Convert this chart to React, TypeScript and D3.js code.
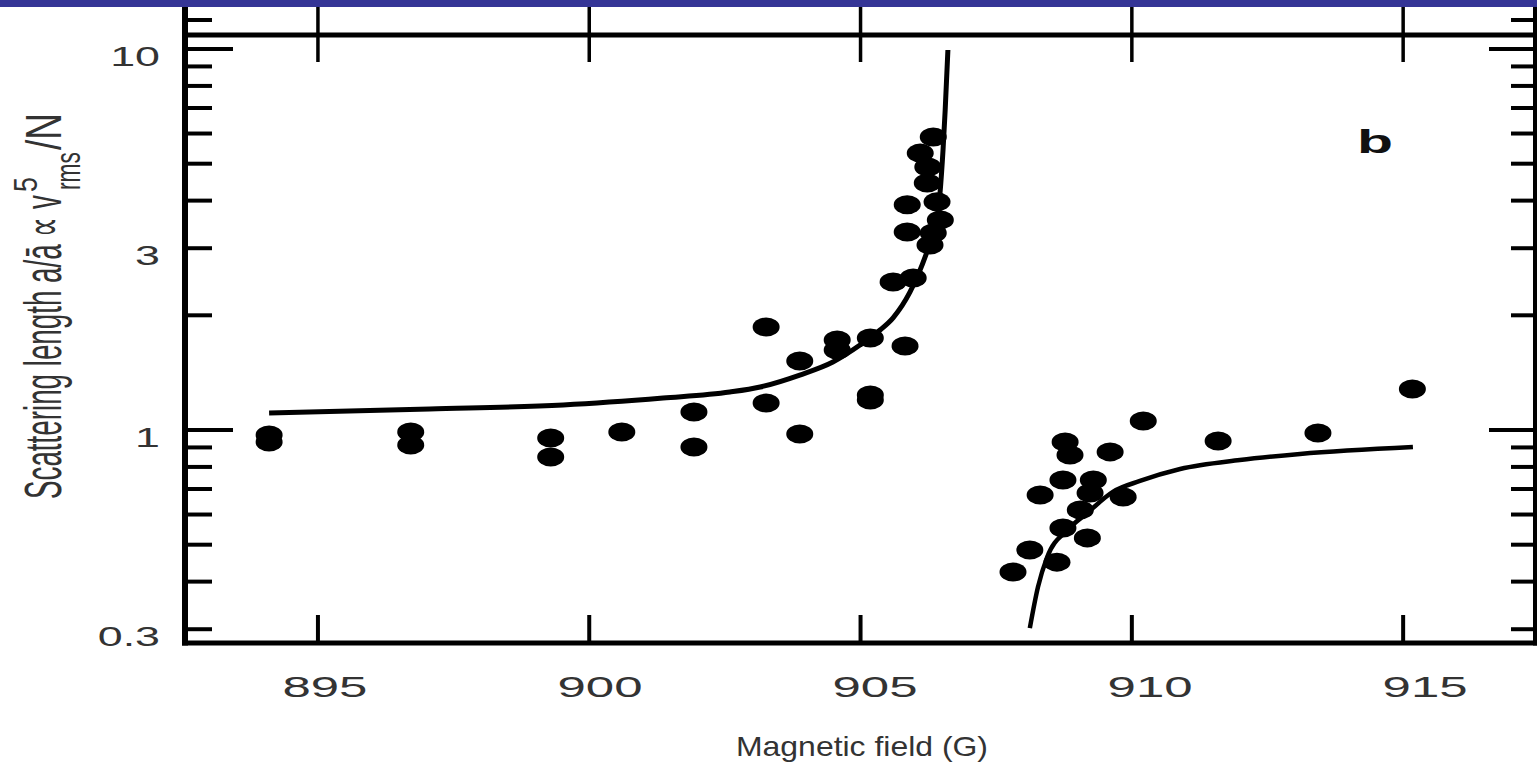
import React from 'react';
import * as d3 from 'd3';

const W = 1537;
const H = 764;

// ---- data ----
const xTickValues = [895, 900, 905, 910, 915];
const xTickLabels = ['895', '900', '905', '910', '915'];
const yMajorTicks = [1, 10];
const yMinorTicks = [0.3, 0.4, 0.5, 0.6, 0.7, 0.8, 0.9, 2, 3, 4, 5, 6, 7, 8, 9];
const yLabelValues = [0.3, 1, 3, 10];
const yLabelTexts = ['0.3', '1', '3', '10'];

// measured points: magnetic field (G), scattering length a/ā
const pointB = [
  894.1, 894.1, 896.71, 896.71, 899.29, 899.29, 900.6, 901.93, 901.93,
  903.26, 903.26, 903.88, 903.88, 904.57, 904.57, 905.18, 905.18, 905.18,
  905.82, 905.6, 905.97, 906.34, 906.1, 906.24, 906.23, 905.86, 906.41,
  906.47, 905.86, 906.34, 906.28,
  910.21, 908.77, 908.86, 909.6, 908.31, 908.73, 909.29, 909.23, 909.84,
  909.05, 908.73, 909.18, 908.12, 908.62, 907.81,
  911.59, 913.43, 915.17,
];
const pointA = [
  0.97, 0.93, 0.988, 0.913, 0.953, 0.849, 0.988, 1.115, 0.902,
  1.864, 1.177, 1.518, 0.976, 1.723, 1.622, 1.744, 1.236, 1.199,
  1.661, 2.446, 2.506, 5.875, 5.33, 4.9, 4.45, 3.9, 3.97,
  3.56, 3.31, 3.29, 3.06,
  1.056, 0.93, 0.86, 0.876, 0.675, 0.739, 0.739, 0.683, 0.667,
  0.617, 0.553, 0.521, 0.484, 0.45, 0.424,
  0.936, 0.982, 1.281,
];

// fitted curve, below resonance
const fitLowB = [894.1, 897.06, 899.52, 901.36, 902.59, 903.15, 903.88, 904.49, 904.99, 905.36, 905.6, 905.91, 906.23, 906.41, 906.52, 906.56, 906.61];
const fitLowA = [1.108, 1.135, 1.163, 1.213, 1.258, 1.297, 1.394, 1.508, 1.671, 1.83, 1.97, 2.3, 2.95, 3.55, 5.43, 6.92, 9.94];
// fitted curve, above resonance
const fitHighB = [908.12, 908.27, 908.44, 908.81, 909.18, 909.65, 910.15, 910.89, 911.99, 913.1, 915.18];
const fitHighA = [0.302, 0.387, 0.464, 0.546, 0.606, 0.688, 0.735, 0.79, 0.834, 0.865, 0.902];

const FONT = "'Liberation Sans', Arial, Helvetica, sans-serif";

export default function App() {
  const left = 185;
  const right = 1535;
  const bottom = 643;
  const topBar = 7;
  const frameTop = 35;

  const x = d3.scaleLinear().domain([892.55, 917.43]).range([left, right]);
  const y = d3.scaleLog().domain([1, 10]).range([430, 49]);
  const xLabel = d3
    .scaleLinear()
    .domain([895, 915])
    .range([x(895) + 7, x(915) + 22]);

  const lowPts: [number, number][] = fitLowB.map((b, i) => [x(b), y(fitLowA[i])]);
  const highPts: [number, number][] = fitHighB.map((b, i) => [x(b), y(fitHighA[i])]);
  const path = d3.line().curve(d3.curveMonotoneX);

  const minorLen = 24;
  const majorLen = 46;
  const extraTickY = frameTop - 15;
  const textFill = '#333';

  return (
    <svg
      width={W}
      height={H}
      viewBox={`0 0 ${W} ${H}`}
      style={{ position: 'absolute', left: 0, top: 0, display: 'block', background: '#fff' }}
    >
      <rect x={0} y={0} width={W} height={H} fill="#fff" />
      <rect x={0} y={0} width={W} height={topBar} fill="#353596" />

      {/* frame lines */}
      <line x1={left - 3} x2={W} y1={frameTop} y2={frameTop} stroke="#000" strokeWidth={5} />
      <line x1={left - 3} x2={W} y1={bottom} y2={bottom} stroke="#000" strokeWidth={5} />
      <line x1={left} x2={left} y1={topBar} y2={bottom + 2.5} stroke="#000" strokeWidth={6} />
      <line x1={right} x2={right} y1={topBar} y2={bottom + 2.5} stroke="#000" strokeWidth={4} />

      {/* x ticks */}
      {xTickValues.map((v) => (
        <g key={`xt${v}`}>
          <line x1={x(v)} x2={x(v)} y1={bottom} y2={bottom - 28} stroke="#000" strokeWidth={4} />
          <line x1={x(v)} x2={x(v)} y1={topBar} y2={62} stroke="#000" strokeWidth={3.5} />
        </g>
      ))}

      {/* y ticks */}
      {yMinorTicks.map((v) => (
        <g key={`ymn${v}`}>
          <line x1={left} x2={left + minorLen + 3} y1={y(v)} y2={y(v)} stroke="#000" strokeWidth={4} />
          <line x1={right} x2={right - minorLen} y1={y(v)} y2={y(v)} stroke="#000" strokeWidth={4} />
        </g>
      ))}
      {yMajorTicks.map((v) => (
        <g key={`ymj${v}`}>
          <line x1={left} x2={left + majorLen + 2} y1={y(v)} y2={y(v)} stroke="#000" strokeWidth={4} />
          <line x1={right} x2={right - majorLen} y1={y(v)} y2={y(v)} stroke="#000" strokeWidth={4} />
        </g>
      ))}
      <line x1={left} x2={left + minorLen + 3} y1={extraTickY} y2={extraTickY} stroke="#000" strokeWidth={4} />
      <line x1={right} x2={right - minorLen} y1={extraTickY} y2={extraTickY} stroke="#000" strokeWidth={4} />

      {/* y tick labels */}
      {yLabelValues.map((v, i) => (
        <text
          key={`yl${v}`}
          transform={`translate(160, ${y(v) + 17}) scale(1.6, 1)`}
          textAnchor="end"
          fontFamily={FONT}
          fontSize={28}
          fill={textFill}
        >
          {yLabelTexts[i]}
        </text>
      ))}

      {/* x tick labels */}
      {xTickValues.map((v, i) => (
        <text
          key={`xl${v}`}
          transform={`translate(${xLabel(v)}, 697) scale(1.7, 1)`}
          textAnchor="middle"
          fontFamily={FONT}
          fontSize={30}
          fill={textFill}
        >
          {xTickLabels[i]}
        </text>
      ))}

      {/* x axis title */}
      <text
        x={736}
        y={756}
        textLength={252}
        lengthAdjust="spacingAndGlyphs"
        fontFamily={FONT}
        fontSize={28}
        fill={textFill}
      >
        Magnetic field (G)
      </text>

      {/* y axis title */}
      <g transform="translate(61, 0) scale(1.85, 1) rotate(-90)" fontFamily={FONT} fill={textFill}>
        <text x={-499} y={0} fontSize={28} textLength={304} lengthAdjust="spacingAndGlyphs">
          Scattering length a/ā ∝ v
        </text>
        <text x={-192} y={-13} fontSize={18} textLength={15} lengthAdjust="spacingAndGlyphs">
          5
        </text>
        <text x={-190} y={10} fontSize={19} textLength={38} lengthAdjust="spacingAndGlyphs">
          rms
        </text>
        <text x={-150} y={0} fontSize={27} textLength={37} lengthAdjust="spacingAndGlyphs">
          /N
        </text>
      </g>

      {/* panel letter */}
      <text
        x={1357}
        y={153}
        fontFamily={FONT}
        fontWeight="bold"
        fontSize={34}
        textLength={36}
        lengthAdjust="spacingAndGlyphs"
        fill="#111"
      >
        b
      </text>

      {/* fit curves */}
      <path d={path(lowPts) || ''} fill="none" stroke="#000" strokeWidth={5} strokeLinecap="butt" />
      <path d={path(highPts) || ''} fill="none" stroke="#000" strokeWidth={4.5} strokeLinecap="butt" />

      {/* data points */}
      {pointB.map((b, i) => (
        <ellipse key={`p${i}`} cx={x(b)} cy={y(pointA[i])} rx={13.5} ry={9.5} fill="#000" />
      ))}
    </svg>
  );
}
